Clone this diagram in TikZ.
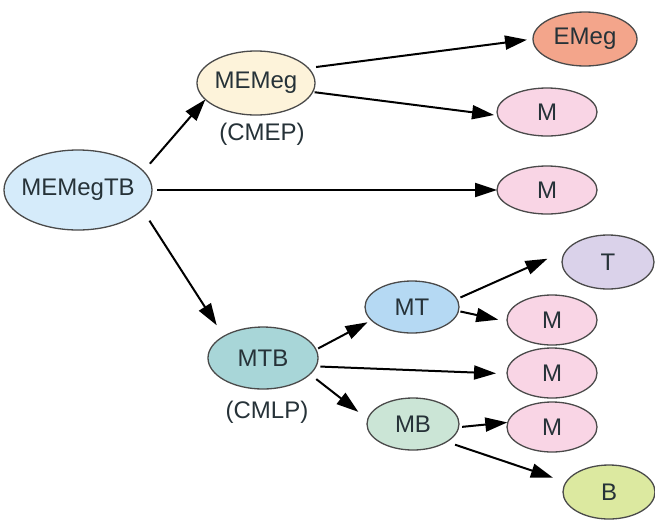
\documentclass[tikz,border=0pt]{standalone}
\usepackage{fontspec}
\setmainfont{Liberation Sans}
\usetikzlibrary{shapes.geometric,arrows.meta}
\definecolor{cA}{HTML}{D5EBFA}
\definecolor{cMEMeg}{HTML}{FDF3DA}
\definecolor{cEMeg}{HTML}{F3A58B}
\definecolor{cM}{HTML}{F9D5E5}
\definecolor{cT}{HTML}{DAD2EA}
\definecolor{cMT}{HTML}{B5D9F3}
\definecolor{cMTB}{HTML}{A8D6D8}
\definecolor{cMB}{HTML}{CBE5D6}
\definecolor{cB}{HTML}{DCE9A0}
\definecolor{edgegray}{HTML}{4A4A4A}
\definecolor{ink}{HTML}{263238}
\newcommand{\lbl}[1]{\makebox[0pt]{#1}}
\begin{document}
\begin{tikzpicture}[x=1pt,y=-1pt,
  ell/.style 2 args={ellipse, draw=edgegray, line width=1.3pt, inner sep=0pt, outer sep=0pt,
    minimum width=#1, minimum height=#2, text=ink, font=\fontsize{24}{26}\selectfont},
  captext/.style={text=ink, font=\fontsize{24}{26}\selectfont, inner sep=0pt},
  arr/.style={line width=2pt, -{Triangle[length=22pt,width=14pt]}}]
\useasboundingbox (0,0) rectangle (655,520);
% nodes
\node[ell={148pt}{80pt}, fill=cA] (a) at (78,190) {\lbl{MEMegTB}};
\node[ell={118pt}{64pt}, fill=cMEMeg] (memeg) at (256,83) {\lbl{MEMeg}};
\node[captext] (cmep) at (262,134) {(CMEP)};
\node[ell={104pt}{54pt}, fill=cEMeg] (emeg) at (585,39) {\lbl{EMeg}};
\node[ell={100pt}{48pt}, fill=cM] (m1) at (547,112) {\lbl{M}};
\node[ell={100pt}{48pt}, fill=cM] (m2) at (547,190) {\lbl{M}};
\node[ell={110pt}{62pt}, fill=cMTB] (mtb) at (263,358) {\lbl{MTB}};
\node[captext] (cmlp) at (267,412) {(CMLP)};
\node[ell={94pt}{52pt}, fill=cMT] (mt) at (412,307) {\lbl{MT}};
\node[ell={92pt}{54pt}, fill=cT] (t) at (608,262) {\lbl{T}};
\node[ell={90pt}{50pt}, fill=cM] (m3) at (552,320) {\lbl{M}};
\node[ell={90pt}{50pt}, fill=cM] (m4) at (552,373) {\lbl{M}};
\node[ell={90pt}{50pt}, fill=cM] (m5) at (552,427) {\lbl{M}};
\node[ell={92pt}{52pt}, fill=cMB] (mb) at (413,424) {\lbl{MB}};
\node[ell={92pt}{54pt}, fill=cB] (b) at (609,492) {\lbl{B}};
% connectors
\draw[arr, shorten <=10pt] (a.16) -- (memeg.-162);
\draw[arr, shorten <=5pt] (a.east) -- (m2.west);
\draw[arr, shorten <=13pt, shorten >=13pt] (a.-17) -- (mtb.151);
\draw[arr, shorten <=8pt, shorten >=6pt] (memeg.16) -- (emeg.180);
\draw[arr, shorten <=2pt, shorten >=3.5pt] (memeg.-9) -- (m1.-176);
\draw[arr, shorten <=2.5pt, shorten >=4.5pt] (mtb.9.5) -- (mt.-162.6);
\draw[arr, shorten <=4.5pt, shorten >=11pt] (mtb.-9.6) -- (m4.181);
\draw[arr, shorten <=8pt, shorten >=12pt] (mtb.-19) -- (mb.174.5);
\draw[arr, shorten <=4pt, shorten >=21pt] (mt.10.8) -- (t.164.4);
\draw[arr, shorten <=2pt, shorten >=9pt] (mt.-5.7) -- (m3.182.4);
\draw[arr, shorten <=3.5pt, shorten >=0.5pt] (mb.-4.1) -- (m5.174.7);
\draw[arr, shorten <=9pt, shorten >=14pt] (mb.-28.5) -- (b.167.4);
\end{tikzpicture}
\end{document}
